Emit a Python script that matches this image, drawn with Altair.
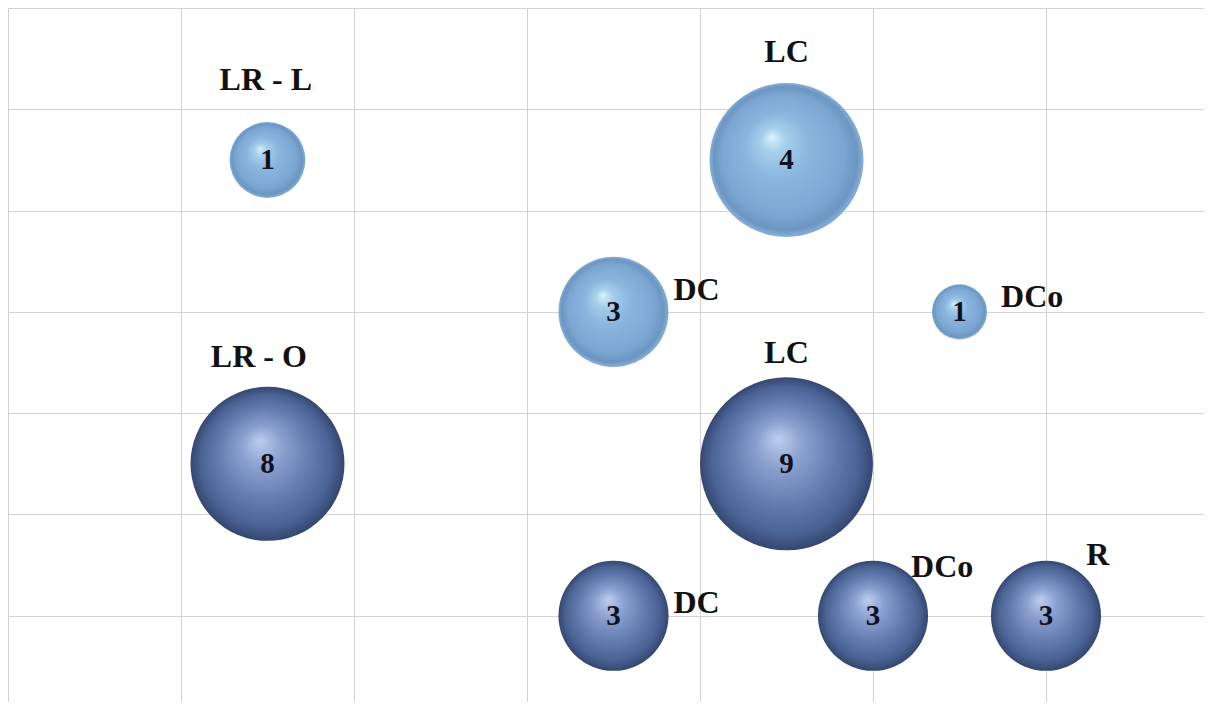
import altair as alt
import pandas as pd

# ---- data ----
series = ["light", "light", "light", "light", "dark", "dark", "dark", "dark", "dark"]
names = ["LR - L", "LC", "DC", "DCo", "LR - O", "LC", "DC", "DCo", "R"]
x_pos = [1.5, 4.5, 3.5, 5.5, 1.5, 4.5, 3.5, 5.0, 6.0]
y_pos = [5.5, 5.5, 4.0, 4.0, 2.5, 2.5, 1.0, 1.0, 1.0]
counts = [1, 4, 3, 1, 8, 9, 3, 3, 3]
bubble = [14.4, 59.3, 30.3, 7.6, 59.3, 74.8, 30.3, 30.3, 30.3]
label_x = [1.49, 4.50, 3.98, 5.92, 1.45, 4.50, 3.98, 5.40, 6.30]
label_y = [6.29, 6.57, 4.22, 4.15, 3.55, 3.59, 1.13, 1.48, 1.60]

x_grid = [0, 1, 2, 3, 4, 5, 6]
y_grid = [1, 2, 3, 4, 5, 6, 7]

df = pd.DataFrame({
    "series": series, "name": names, "x": x_pos, "y": y_pos,
    "count": counts, "bubble": bubble, "lx": label_x, "ly": label_y,
})

W, H = 1196, 694
x_scale = alt.Scale(domain=[0, W / 173.0], nice=False, zero=False)
y_scale = alt.Scale(domain=[7 - H / 101.3, 7], nice=False, zero=False)
# symbol size in Vega is (diameter)^2 for circles
size_scale = alt.Scale(domain=[0, 80], range=[0, 80 * 400])

grid_axis_x = alt.Axis(values=x_grid, labels=False, ticks=False, domain=False,
                       grid=True, gridColor="#d2d2d2", gridWidth=1, title=None)
grid_axis_y = alt.Axis(values=y_grid, labels=False, ticks=False, domain=False,
                       grid=True, gridColor="#d2d2d2", gridWidth=1, title=None)

light_grad = alt.RadialGradient(
    gradient="radial", x1=0.40, y1=0.35, r1=0.0, x2=0.5, y2=0.5, r2=0.5,
    stops=[
        alt.GradientStop(color="#d8f2fb", offset=0.0),
        alt.GradientStop(color="#a6cfeb", offset=0.16),
        alt.GradientStop(color="#8ab6de", offset=0.42),
        alt.GradientStop(color="#7ba6d1", offset=0.80),
        alt.GradientStop(color="#6b95c2", offset=0.93),
        alt.GradientStop(color="#88b0d6", offset=1.0),
    ],
)
dark_grad = alt.RadialGradient(
    gradient="radial", x1=0.45, y1=0.35, r1=0.0, x2=0.5, y2=0.5, r2=0.5,
    stops=[
        alt.GradientStop(color="#bccdee", offset=0.0),
        alt.GradientStop(color="#8a9fce", offset=0.28),
        alt.GradientStop(color="#637bad", offset=0.6),
        alt.GradientStop(color="#4b6295", offset=0.85),
        alt.GradientStop(color="#34476f", offset=1.0),
    ],
)

base = alt.Chart(df)

grid = base.mark_point(opacity=0).encode(
    x=alt.X("x:Q", scale=x_scale, axis=grid_axis_x),
    y=alt.Y("y:Q", scale=y_scale, axis=grid_axis_y),
)

light = base.transform_filter(alt.datum.series == "light").mark_circle(
    fill=light_grad, opacity=1, strokeWidth=0
).encode(
    x=alt.X("x:Q", scale=x_scale),
    y=alt.Y("y:Q", scale=y_scale),
    size=alt.Size("bubble:Q", scale=size_scale, legend=None),
)

dark = base.transform_filter(alt.datum.series == "dark").mark_circle(
    fill=dark_grad, opacity=1, strokeWidth=0
).encode(
    x=alt.X("x:Q", scale=x_scale),
    y=alt.Y("y:Q", scale=y_scale),
    size=alt.Size("bubble:Q", scale=size_scale, legend=None),
)

count_text = base.mark_text(
    font="Liberation Serif", fontWeight="bold", fontSize=29,
    color="#10101e", align="center", baseline="middle",
).encode(
    x=alt.X("x:Q", scale=x_scale),
    y=alt.Y("y:Q", scale=y_scale),
    text="count:Q",
)

name_text = base.mark_text(
    font="Liberation Serif", fontWeight="bold", fontSize=32,
    color="#111111", align="center", baseline="middle",
).encode(
    x=alt.X("lx:Q", scale=x_scale),
    y=alt.Y("ly:Q", scale=y_scale),
    text="name:N",
)

chart = alt.layer(grid, light, dark, count_text, name_text).properties(
    width=W, height=H,
    autosize=alt.AutoSizeParams(type="none"),
    padding=0,
    background="white",
).configure_view(stroke=None)

chart.save("out.html", embed_options={"renderer": "svg", "actions": False})
